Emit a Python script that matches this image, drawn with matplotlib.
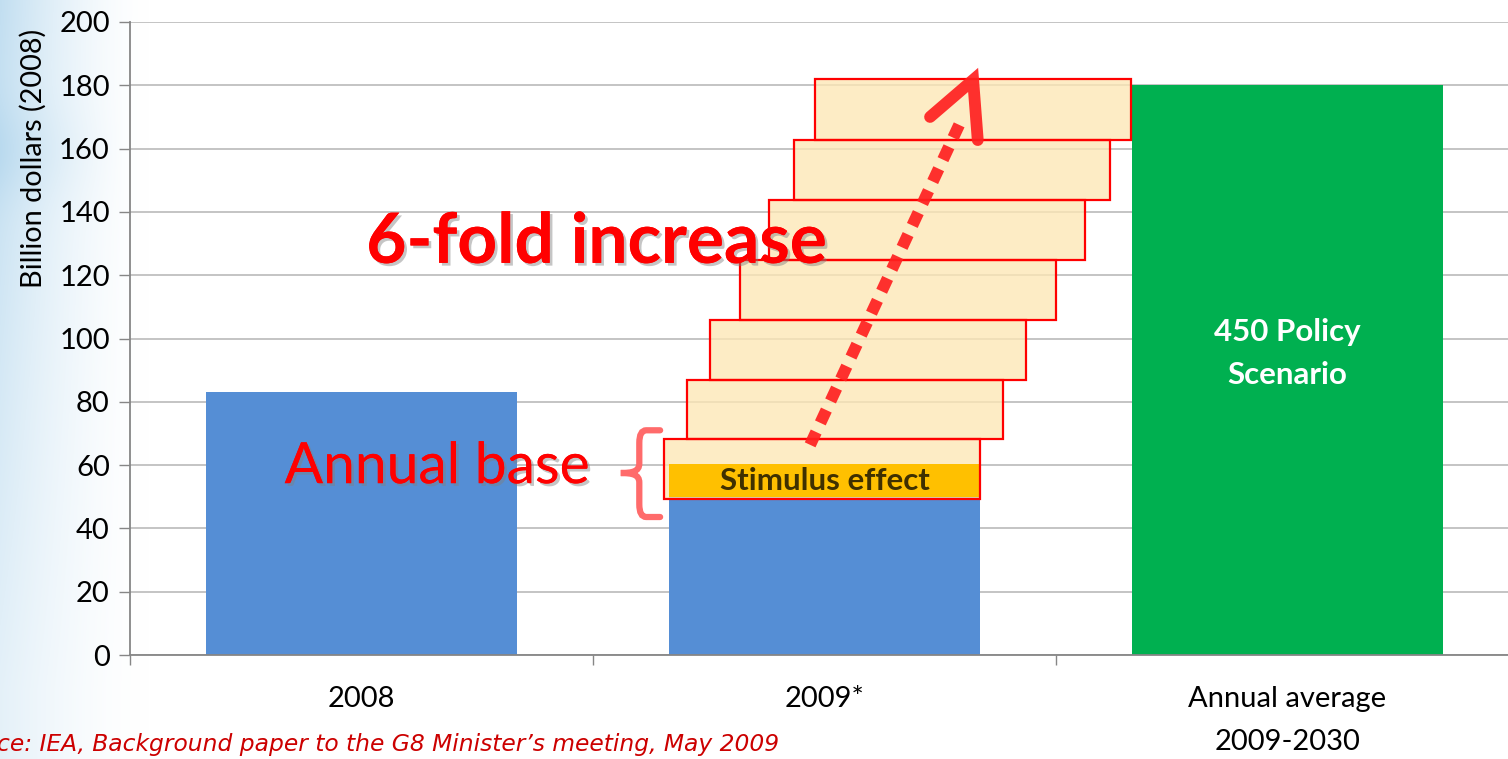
import numpy as np
import matplotlib
matplotlib.use("Agg")
import matplotlib.pyplot as plt
from matplotlib.patches import Rectangle, PathPatch
from matplotlib.path import Path
import matplotlib.patheffects as pe

# ---------------- data ----------------
categories = ["2008", "2009*", "Annual average\n2009-2030"]
base_values = [83, 50, 180]
bar_colors = ["#558ED5", "#558ED5", "#00B050"]
stimulus_value = 10.5          # stacked on 2009* bar
step_bottoms = [49.3, 68.2, 86.9, 105.8, 124.8, 143.8, 162.7]
step_tops = [68.2, 86.9, 105.8, 124.8, 143.8, 162.7, 181.9]
step_lefts = [0.653, 0.703, 0.753, 0.818, 0.880, 0.934, 0.980]
step_width = 0.683
yticks = list(range(0, 201, 20))

# ---------------- figure ----------------
W, H = 1508, 759
fig = plt.figure(figsize=(W / 100, H / 100), dpi=100)
fig.patch.set_facecolor("white")

# soft blue background at the left edge
bg = fig.add_axes([0, 0, 150 / W, 1], zorder=-10)
xs = np.linspace(0, 1, 150)
ys = np.linspace(0, 1, 759)
X, Y = np.meshgrid(xs, ys)
w = np.clip(1 - X, 0, 1) ** 1.6 * (0.35 + 0.45 * np.clip(1 - Y * 1.1, 0, 1))
w += 0.2 * np.exp(-((Y - 0.2) ** 2) / 0.004) * np.clip(1 - X * 1.2, 0, 1)
w = np.clip(w, 0, 1)
blue = np.array([0.70, 0.84, 0.93])
img = (1 - w[..., None]) * np.array([1, 1, 1]) + w[..., None] * blue
bg.imshow(img, aspect="auto", extent=[0, 1, 0, 1], origin="upper")
bg.set_axis_off()

ax = fig.add_axes([130 / W, 104 / H, 1389 / W, 633 / H])
ax.set_facecolor("none")

x = np.arange(len(categories))
bar_w = 0.67
ax.bar(x, base_values, width=bar_w, color=bar_colors, zorder=2)

# stimulus effect segment
ax.bar([1], [stimulus_value], bottom=[base_values[1]], width=bar_w,
       color="#FFC000", zorder=3.5)
ax.text(1, base_values[1] + stimulus_value / 2 - 0.3, "Stimulus effect",
        ha="center", va="center", fontsize=22.5, fontweight="bold",
        color="#3F3000", family="Lato", zorder=6)

# stacked "steps" of increase
for l, b, t in zip(step_lefts, step_bottoms, step_tops):
    ax.add_patch(Rectangle((l, b), step_width, t - b, facecolor="#FDE7B5",
                           alpha=0.78, edgecolor="none", zorder=3))
    ax.add_patch(Rectangle((l, b), step_width, t - b, facecolor="none",
                           edgecolor="#FF0000", lw=1.6, zorder=4))

# 450 policy label
ax.text(2, 95.3, "450 Policy\nScenario", ha="center", va="center",
        fontsize=22.5, fontweight="bold", color="white", family="Lato",
        linespacing=1.65, zorder=6)

# dotted arrow
arrow_col = "#FF2020"
ax.plot([0.969, 1.294], [66.4, 168.5], color=arrow_col, lw=8.5, alpha=0.92,
        linestyle=(0, (1.2, 0.85)), dash_capstyle="butt", zorder=5)
ax.plot([1.228, 1.321, 1.331], [170.0, 181.7, 162.7], color=arrow_col,
        lw=8.5, alpha=0.92, solid_capstyle="round", solid_joinstyle="miter",
        zorder=5)

shadow = [pe.withSimplePatchShadow(offset=(2, -2), shadow_rgbFace="#7f7f7f",
                                   alpha=0.45), pe.Normal()]
ax.text(0.509, 123.9, "6-fold increase", ha="center", va="baseline",
        fontsize=50, fontweight="bold", color="#FF0000", family="Lato",
        zorder=7, path_effects=shadow)
ax.text(0.164, 54.3, "Annual base", ha="center", va="baseline",
        fontsize=41, color="#FF0000", family="Lato", zorder=7,
        path_effects=shadow)

# curly brace
bx0, bx1, tip = 0.645, 0.600, 0.560
yt, ym, yb = 71.0, 57.5, 43.6
verts = [(bx0, yt), (0.615, yt), (bx1, yt), (bx1, yt - 4),
         (bx1, ym + 3),
         (bx1, ym + 0.5), (0.585, ym), (tip, ym),
         (0.585, ym), (bx1, ym - 0.5), (bx1, ym - 3),
         (bx1, yb + 4),
         (bx1, yb), (0.615, yb), (bx0, yb)]
codes = [Path.MOVETO, Path.LINETO, Path.CURVE3, Path.CURVE3,
         Path.LINETO,
         Path.CURVE4, Path.CURVE4, Path.CURVE4,
         Path.CURVE4, Path.CURVE4, Path.CURVE4,
         Path.LINETO,
         Path.CURVE3, Path.CURVE3, Path.LINETO]
ax.add_patch(PathPatch(Path(verts, codes), facecolor="none",
                       edgecolor="#FF6B6B", lw=4.5, capstyle="round",
                       zorder=5))

# axes styling
ax.set_xlim(-0.5, 2.5)
ax.set_ylim(0, 200)
ax.set_yticks(yticks)
ax.set_yticklabels([str(v) for v in yticks], family="Lato", fontsize=21)
ax.yaxis.grid(True, color="#BFBFBF", lw=1.3, zorder=0)
ax.set_axisbelow(True)
ax.tick_params(axis="y", direction="out", length=8, width=1,
               color="#868686", pad=6.5)
ax.set_xticks(x)
ax.set_xticklabels(categories, family="Lato", fontsize=21)
ax.tick_params(axis="x", length=0, pad=22)
ax.set_xticks([-0.5, 0.5, 1.5, 2.5], minor=True)
ax.tick_params(axis="x", which="minor", direction="out", length=7,
               width=1, color="#868686")
for lbl in ax.get_xticklabels():
    lbl.set_linespacing(1.85)
    lbl.set_verticalalignment("top")
for s in ["top", "right"]:
    ax.spines[s].set_visible(False)
for s in ["left", "bottom"]:
    ax.spines[s].set_color("#868686")
    ax.spines[s].set_linewidth(1.3)

fig.text(33 / W, 1 - 158 / H, "Billion dollars (2008)", rotation=90,
         ha="center", va="center", fontsize=20.8, family="Lato")

fig.text(-3 / W, 1 - 745 / H,
         "ce: IEA, Background paper to the G8 Minister\u2019s meeting, May 2009",
         ha="left", va="center", fontsize=16.8, style="italic",
         color="#CC0000", family="DejaVu Sans")

fig.savefig("out.png", dpi=100)
